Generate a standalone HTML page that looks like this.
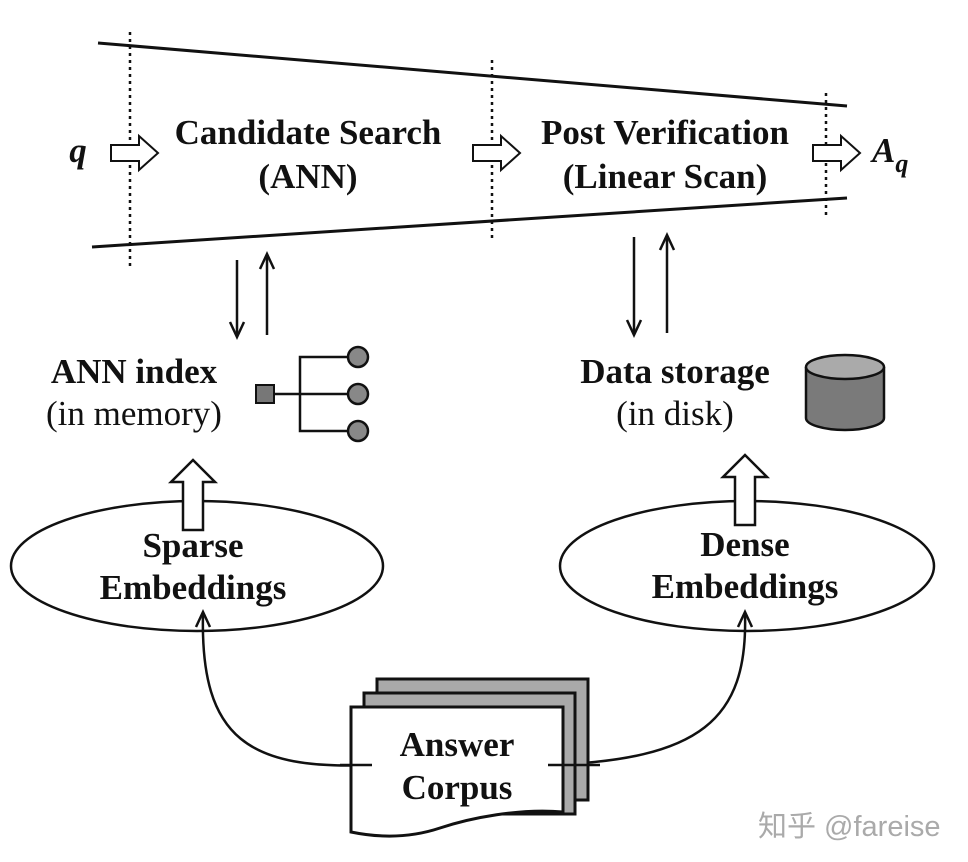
<!DOCTYPE html>
<html><head><meta charset="utf-8"><style>
body{margin:0;background:#fff}
svg{display:block}
.b{font-family:"Liberation Serif",serif;font-weight:bold;font-size:35px;fill:#111}
.n{font-family:"Liberation Serif",serif;font-size:35px;fill:#111}
</style></head><body>
<svg width="968" height="862" viewBox="0 0 968 862" xmlns="http://www.w3.org/2000/svg">
<g stroke="#111" stroke-width="3" fill="none">
<line x1="98" y1="43" x2="847" y2="106"/>
<line x1="92" y1="247" x2="847" y2="198"/>
</g>
<g stroke="#111" stroke-width="2.5" stroke-dasharray="3,4">
<line x1="130" y1="32" x2="130" y2="268"/>
<line x1="492" y1="60" x2="492" y2="240"/>
<line x1="826" y1="93" x2="826" y2="218"/>
</g>
<g fill="#fff" stroke="#111" stroke-width="2">
<path d="M111,145 h28 v-9 l19,17 l-19,17 v-9 h-28 z"/>
<path d="M473,145 h28 v-9 l19,17 l-19,17 v-9 h-28 z"/>
<path d="M813,145 h28 v-9 l19,17 l-19,17 v-9 h-28 z"/>
</g>
<text x="78" y="162" class="b" font-style="italic" text-anchor="middle" font-size="36">q</text>
<text x="872" y="162" class="b" font-style="italic" font-size="35">A<tspan font-size="26" dy="10">q</tspan></text>
<text x="308" y="144" class="b" text-anchor="middle">Candidate Search</text>
<text x="308" y="188" class="b" text-anchor="middle">(ANN)</text>
<text x="665" y="144" class="b" text-anchor="middle">Post Verification</text>
<text x="665" y="188" class="b" text-anchor="middle">(Linear Scan)</text>
<g stroke="#111" stroke-width="2.5" fill="none">
<line x1="237" y1="260" x2="237" y2="335"/>
<path d="M230,322 L237,337 L244,322"/>
<line x1="267" y1="335" x2="267" y2="256"/>
<path d="M260,269 L267,254 L274,269"/>
<line x1="634" y1="237" x2="634" y2="333"/>
<path d="M627,320 L634,335 L641,320"/>
<line x1="667" y1="333" x2="667" y2="237"/>
<path d="M660,250 L667,235 L674,250"/>
</g>
<text x="134" y="383" class="b" text-anchor="middle">ANN index</text>
<text x="134" y="425" class="n" text-anchor="middle">(in memory)</text>
<text x="675" y="383" class="b" text-anchor="middle">Data storage</text>
<text x="675" y="425" class="n" text-anchor="middle">(in disk)</text>
<rect x="256" y="385" width="18" height="18" fill="#777" stroke="#111" stroke-width="2"/>
<g stroke="#111" stroke-width="2.5" fill="none">
<line x1="274" y1="394" x2="348" y2="394"/>
<path d="M348,357 H300 V431 H348"/>
</g>
<g fill="#888" stroke="#111" stroke-width="2.5">
<circle cx="358" cy="357" r="10"/>
<circle cx="358" cy="394" r="10"/>
<circle cx="358" cy="431" r="10"/>
</g>
<path d="M806,367 V418 A39,12 0 0 0 884,418 V367" fill="#7a7a7a" stroke="#111" stroke-width="2.5"/>
<ellipse cx="845" cy="367" rx="39" ry="12" fill="#aaa" stroke="#111" stroke-width="2.5"/>
<ellipse cx="197" cy="566" rx="186" ry="65" fill="none" stroke="#111" stroke-width="2.5"/>
<ellipse cx="747" cy="566" rx="187" ry="65" fill="none" stroke="#111" stroke-width="2.5"/>
<g fill="#fff" stroke="#111" stroke-width="2.5">
<path d="M183,530 v-48 h-12 l22,-22 l22,22 h-12 v48 z"/>
<path d="M735,525 v-48 h-12 l22,-22 l22,22 h-12 v48 z"/>
</g>
<text x="193" y="557" class="b" text-anchor="middle">Sparse</text>
<text x="193" y="599" class="b" text-anchor="middle">Embeddings</text>
<text x="745" y="556" class="b" text-anchor="middle">Dense</text>
<text x="745" y="598" class="b" text-anchor="middle">Embeddings</text>
<g stroke="#111" stroke-width="2.5" fill="none">
<path d="M372,765 C250,770 200,740 203,614"/>
<path d="M196,627 L203,612 L210,627"/>
<path d="M548,765 C700,760 748,720 745,614"/>
<path d="M738,627 L745,612 L752,627"/>
</g>
<rect x="377" y="679" width="211" height="121" fill="#a9a9a9" stroke="#111" stroke-width="3"/>
<rect x="364" y="693" width="211" height="121" fill="#a9a9a9" stroke="#111" stroke-width="3"/>
<path d="M351,707 H563 V812 C520,808 470,818 440,828 C410,838 380,838 351,832 Z" fill="#fff" stroke="#111" stroke-width="3"/>
<g stroke="#111" stroke-width="2.5">
<line x1="340" y1="765" x2="372" y2="765"/>
<line x1="548" y1="765" x2="600" y2="765"/>
</g>
<text x="457" y="756" class="b" text-anchor="middle">Answer</text>
<text x="457" y="799" class="b" text-anchor="middle">Corpus</text>
<text x="758" y="836" font-family="'Liberation Sans','Noto Sans CJK SC',sans-serif" font-size="29" fill="#aaa">知乎 @fareise</text>
</svg>
</body></html>
